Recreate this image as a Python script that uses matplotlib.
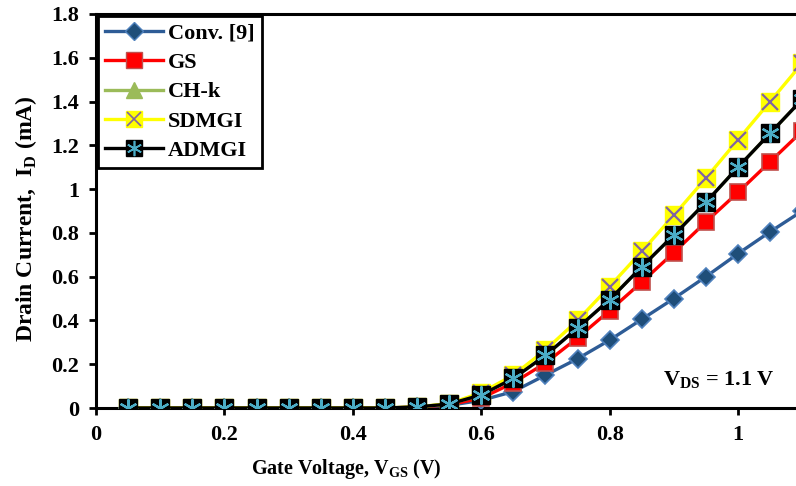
"""Drain current vs gate voltage for the five device structures"""
import matplotlib.pyplot as plt
from matplotlib.lines import Line2D

plt.rcParams['font.family'] = ['Liberation Serif', 'DejaVu Serif']
plt.rcParams['font.weight'] = 'bold'
plt.rcParams['mathtext.fontset'] = 'custom'
plt.rcParams['mathtext.rm'] = 'Liberation Serif:bold'
plt.rcParams['mathtext.bf'] = 'Liberation Serif:bold'

vgs = [0.05, 0.10, 0.15, 0.20, 0.25, 0.30, 0.35, 0.40, 0.45, 0.50, 0.55,
       0.60, 0.65, 0.70, 0.75, 0.80, 0.85, 0.90, 0.95, 1.00, 1.05, 1.10]
conv = [0, 0, 0, 0, 0, 0, 0, 0, 0, 0.003, 0.012,
        0.035, 0.075, 0.15, 0.225, 0.31, 0.405, 0.50, 0.60, 0.705, 0.805, 0.90]
gs = [0, 0, 0, 0, 0, 0, 0, 0, 0, 0.004, 0.015,
      0.045, 0.115, 0.205, 0.32, 0.445, 0.575, 0.71, 0.85, 0.985, 1.125, 1.265]
chk = [0, 0, 0, 0, 0, 0, 0, 0, 0, 0.005, 0.018,
       0.06, 0.135, 0.24, 0.365, 0.495, 0.645, 0.79, 0.94, 1.10, 1.255, 1.41]
sdmgi = [0, 0, 0, 0, 0, 0, 0, 0, 0, 0.005, 0.02,
         0.07, 0.15, 0.265, 0.40, 0.555, 0.715, 0.88, 1.05, 1.225, 1.40, 1.575]
admgi = [0, 0, 0, 0, 0, 0, 0, 0, 0, 0.005, 0.018,
         0.06, 0.135, 0.24, 0.365, 0.495, 0.645, 0.79, 0.94, 1.10, 1.255, 1.41]

fig = plt.figure(figsize=(7.96, 4.86), dpi=100)
ax = fig.add_axes([96 / 796, 78 / 486, 700 / 796, 394 / 486])

lw = 2.4
ax.plot(vgs, conv, color='#2E5C96', lw=lw, marker='D', ms=9,
        mfc='#1F4E79', mec='#4F81BD', mew=1.2, zorder=3)
ax.plot(vgs, gs, color='#FF0000', lw=lw, marker='s', ms=11,
        mfc='#FF0000', mec='#C0504D', mew=1.2, zorder=4)
ax.plot(vgs, chk, color='#9BBB59', lw=lw, marker='^', ms=11,
        mfc='#9BBB59', mec='#9BBB59', zorder=5)
ax.plot(vgs, sdmgi, color='#FFFF00', lw=lw, marker='s', ms=13,
        mfc='#FFFF00', mec='#FFFF00', zorder=6)
ax.plot(vgs, sdmgi, ls='none', marker='x', ms=12, mec='#8064A2', mew=1.6, zorder=6)
ax.plot(vgs, admgi, color='black', lw=lw, marker='s', ms=13,
        mfc='black', mec='black', zorder=7)
ax.plot(vgs, admgi, ls='none', marker=(6, 2, 0), ms=13, mec='#4BACC6', mew=1.6, zorder=7)

ax.set_xlim(0, 700 / 642)
ax.set_ylim(0, 1.8)
ax.set_xticks([0, 0.2, 0.4, 0.6, 0.8, 1])
ax.set_xticklabels(['0', '0.2', '0.4', '0.6', '0.8', '1'])
ax.set_yticks([0, 0.2, 0.4, 0.6, 0.8, 1, 1.2, 1.4, 1.6, 1.8])
ax.set_yticklabels(['0', '0.2', '0.4', '0.6', '0.8', '1', '1.2', '1.4', '1.6', '1.8'])
ax.tick_params(direction='out', length=5, width=2, labelsize=16, pad=7)
ax.spines['right'].set_visible(False)
for s in ['left', 'bottom', 'top']:
    ax.spines[s].set_linewidth(2.2)

ax.set_xlabel(r'Gate Voltage, V$_{\mathrm{GS}}$ (V)', fontsize=14.5, fontweight='bold')
ax.xaxis.set_label_coords((346 - 96) / 700, -0.125)
ax.set_ylabel(r'Drain Current,  I$_{\mathrm{D}}$ (mA)', fontsize=17, fontweight='bold')
ax.yaxis.set_label_coords(-0.082, 0.482)

fig.text(775 / 796, (486 - 385) / 486, r'V$_{\mathrm{DS}}$ = 1.1 V',
         ha='right', va='baseline', fontsize=16, fontweight='bold')

# composite legend markers
h_conv = Line2D([], [], color='#2E5C96', lw=lw, marker='D', ms=9, mfc='#1F4E79', mec='#4F81BD')
h_gs = Line2D([], [], color='#FF0000', lw=lw, marker='s', ms=11, mfc='#FF0000', mec='#C0504D')
h_chk = Line2D([], [], color='#9BBB59', lw=lw, marker='^', ms=11, mfc='#9BBB59', mec='#9BBB59')
h_sd = (Line2D([], [], color='#FFFF00', lw=lw, marker='s', ms=11, mfc='#FFFF00', mec='#FFFF00'),
        Line2D([], [], ls='none', marker='x', ms=10, mec='#8064A2', mew=1.2))
h_ad = (Line2D([], [], color='black', lw=lw, marker='s', ms=11, mfc='black', mec='black'),
        Line2D([], [], ls='none', marker=(6, 2, 0), ms=11, mec='#4BACC6', mew=1.2))
leg = ax.legend([h_conv, h_gs, h_chk, h_sd, h_ad], ['Conv. [9]', 'GS', 'CH-k', 'SDMGI', 'ADMGI'],
                loc='upper left', bbox_to_anchor=(0.0, 1.0), fancybox=False, framealpha=1,
                edgecolor='black', fontsize=16, handlelength=2.6, handletextpad=0.25,
                labelspacing=0.4, borderpad=0.3, borderaxespad=0.1)
leg.get_frame().set_linewidth(2)
for t in leg.get_texts():
    t.set_fontweight('bold')

fig.savefig('out.png', dpi=100)
